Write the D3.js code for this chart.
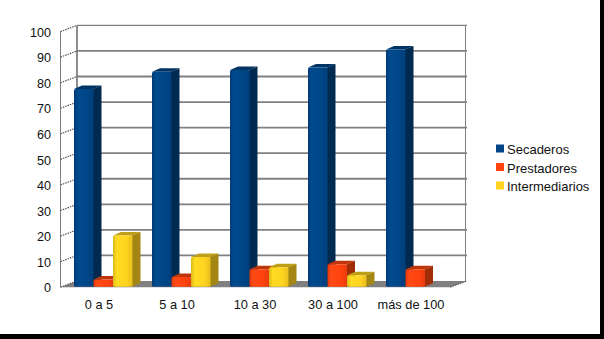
<!DOCTYPE html>
<html>
<head>
<meta charset="utf-8">
<script src="https://d3js.org/d3.v7.min.js"></script>
<style>
  html, body { margin: 0; padding: 0; background: #fff; overflow: hidden; }
  text { font-family: "Liberation Sans", Arial, sans-serif; fill: #111; }
</style>
</head>
<body>
<div id="chart"></div>
<script>
var categories = ["0 a 5", "5 a 10", "10 a 30", "30 a 100", "más de 100"];
var seriesNames = ["Secaderos", "Prestadores", "Intermediarios"];
var secaderos = [77.5, 84.3, 85, 86, 93];
var prestadores = [3, 4, 7, 9, 7];
var intermediarios = [20.2, 11.8, 7.8, 4.7, null];
var yTicks = [0, 10, 20, 30, 40, 50, 60, 70, 80, 90, 100];

var w = 604, h = 339;
var depth_x = 16.5, depth_y = -6.2;   // wall offset
var bar_dx = 8, bar_dy = -3.5;        // bar depth

var svg = d3.select("#chart").append("svg").attr("width", w).attr("height", h).style("display", "block");

var x = d3.scaleBand().domain(categories).range([60.5, 450.5]);
var y = d3.scaleLinear().domain([0, 100]).range([287.2, 31.6]);
var barW = 19.5, barPad = 13.5;

var colors = [
  {front: ["#003a74", "#004b8f", "#004586", "#003f7c"], side: "#002a50", top: "#003465"},
  {front: ["#e03a0c", "#ff4a14", "#ff420e", "#e83c0d"], side: "#a02d08", top: "#bf360b"},
  {front: ["#d9b818", "#ffdc22", "#ffd320", "#e6be1d"], side: "#a38613", top: "#bf9f18"}
];

var defs = svg.append("defs");
colors.forEach(function(c, i) {
  var g = defs.append("linearGradient").attr("id", "front" + i);
  c.front.forEach(function(col, j) {
    g.append("stop").attr("offset", [0, 0.2, 0.7, 1][j]).attr("stop-color", col);
  });
});

// floor
var floor = [[60.5, y(0)], [60.5 + depth_x, y(0) + depth_y], [450.5 + depth_x, y(0) + depth_y], [450.5, y(0)]];
svg.append("polygon").attr("points", floor.join(" ")).attr("fill", "#808080");

// back wall grid lines
svg.selectAll(".grid").data(yTicks.filter(function(d) { return d > 0; })).enter().append("line")
  .attr("class", "grid")
  .attr("x1", 60.5 + depth_x).attr("x2", 450.5 + depth_x)
  .attr("y1", function(d) { return y(d) + depth_y; })
  .attr("y2", function(d) { return y(d) + depth_y; })
  .attr("stroke", "#808080").attr("stroke-width", function(d) { return d == 100 ? 1.2 : 1.8; });

svg.append("line").attr("x1", 77).attr("x2", 77).attr("y1", y(100) + depth_y).attr("y2", y(0) + depth_y)
  .attr("stroke", "#808080").attr("stroke-width", 1.8);
svg.append("line").attr("x1", 465.5).attr("x2", 465.5).attr("y1", y(100) + depth_y).attr("y2", y(0) + depth_y)
  .attr("stroke", "#808080").attr("stroke-width", 1);

// left wall
svg.append("line").attr("x1", 60.5).attr("x2", 60.5).attr("y1", y(100)).attr("y2", y(0))
  .attr("stroke", "#808080").attr("stroke-width", 1);
svg.selectAll(".wall").data(yTicks).enter().append("line")
  .attr("class", "wall")
  .attr("x1", 60.5).attr("x2", 60.5 + depth_x)
  .attr("y1", function(d) { return y(d); })
  .attr("y2", function(d) { return y(d) + depth_y; })
  .attr("stroke", "#555").attr("stroke-width", 1.2).attr("stroke-dasharray", "1.5 1");

// floor right edge
svg.append("line").attr("x1", 450.5).attr("x2", 450.5 + depth_x)
  .attr("y1", y(0)).attr("y2", y(0) + depth_y)
  .attr("stroke", "#555").attr("stroke-width", 1).attr("stroke-dasharray", "1.5 1");

// bars
var series = [secaderos, prestadores, intermediarios];
series.forEach(function(values, s) {
  var c = colors[s];
  values.forEach(function(v, i) {
    if (v === null) return;
    var x0 = x(categories[i]) + barPad + s * barW;
    var x1 = x0 + barW;
    var y0 = y(v), yb = y(0) - 0.5;
    var bar = svg.append("g");
    bar.append("path")
      .attr("d", d3.line()([[x1 - 0.5, y0], [x1 + bar_dx, y0 + bar_dy], [x1 + bar_dx, yb + bar_dy], [x1 - 0.5, yb]]))
      .attr("fill", c.side);
    bar.append("path")
      .attr("d", d3.line()([[x0, y0], [x0 + bar_dx, y0 + bar_dy], [x1 + bar_dx, y0 + bar_dy], [x1, y0]]))
      .attr("fill", c.top);
    bar.append("rect")
      .attr("x", x0).attr("y", y0).attr("width", barW).attr("height", yb - y0)
      .attr("rx", 1.5)
      .attr("fill", "url(#front" + s + ")");
  });
});

// axes text
var yAxis = d3.axisLeft(y).tickValues(yTicks).tickSize(0).tickPadding(0);
var yg = svg.append("g").attr("transform", "translate(51,0.6)").call(yAxis);
yg.select(".domain").remove();
yg.selectAll("text").attr("font-size", 12.6).style("font-family", '"Liberation Sans", Arial, sans-serif').attr("fill", "#111");

var xAxis = d3.axisBottom(x).tickSize(0).tickPadding(0);
var xg = svg.append("g").attr("transform", "translate(-0.5,299.5)").call(xAxis);
xg.select(".domain").remove();
xg.selectAll("text").attr("font-size", 12.8).style("font-family", '"Liberation Sans", Arial, sans-serif').attr("fill", "#111");

// legend
var legend = svg.append("g").selectAll("g").data(seriesNames).enter().append("g")
  .attr("transform", function(d, i) { return "translate(496," + (144.5 + i * 18.5) + ")"; });
legend.append("rect").attr("width", 8).attr("height", 8)
  .attr("fill", function(d, i) { return colors[i].front[2]; });
legend.append("text").attr("x", 11).attr("y", 9.5).attr("font-size", 13).text(function(d) { return d; });

// black border of the picture
svg.append("rect").attr("x", 600).attr("y", 0).attr("width", 4).attr("height", h).attr("fill", "#000");
svg.append("rect").attr("x", 0).attr("y", 334).attr("width", w).attr("height", 5).attr("fill", "#000");
</script>
</body>
</html>
